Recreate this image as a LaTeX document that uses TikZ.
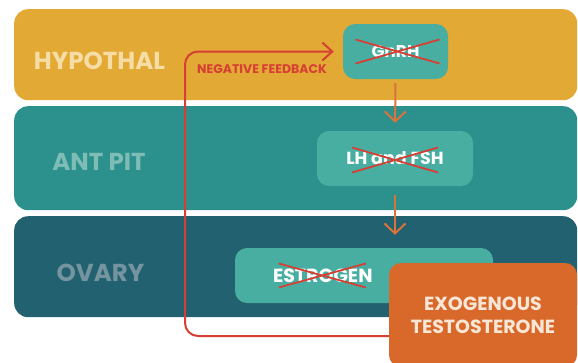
\documentclass[tikz,border=0pt]{standalone}
\usepackage{fontspec}
\setmainfont{Poppins}
\usepackage{tikz}
\usetikzlibrary{arrows.meta,positioning,calc}
\definecolor{hypoC}{HTML}{E3A935}
\definecolor{hypoT}{HTML}{F6DDA6}
\definecolor{pitC}{HTML}{2C918D}
\definecolor{pitT}{HTML}{7DBDB6}
\definecolor{ovaC}{HTML}{22616F}
\definecolor{ovaT}{HTML}{7494A0}
\definecolor{boxC}{HTML}{48AEA2}
\definecolor{fbred}{HTML}{D63F33}
\definecolor{arrC}{HTML}{D9733A}
\definecolor{exoC}{HTML}{D9692B}
\definecolor{exoT}{HTML}{F8E6D6}
\tikzset{
  band/.style={
    draw=none,
    rounded corners=14pt,
    minimum width=563pt,
    anchor=north west,
    inner sep=0pt
  },
  band label/.style={
    font=\bfseries\fontsize{24.5}{26}\selectfont
  },
  hormone/.style={
    fill=boxC,
    rounded corners=12pt,
    minimum height=55pt,
    inner sep=0pt,
    text=white,
    font=\bfseries\fontsize{17.5}{19}\selectfont
  },
  cross/.style={
    draw=fbred,
    line width=1.8pt
  },
  flow/.style={
    draw=arrC,
    line width=2pt,
    -{Straight Barb[length=10pt,width=21pt]}
  },
  feedback/.style={
    draw=fbred,
    line width=2pt,
    rounded corners=13pt,
    -{Straight Barb[length=10pt,width=18pt]}
  }
}

\begin{document}
\begin{tikzpicture}[x=1pt, y=-1pt]
   \useasboundingbox (0,0) rectangle (578,362);
   \clip (0,0) rectangle (578,362);

   % the three levels
   \node[band, fill=hypoC, minimum height=91pt] (hypo) at (14,9) {};
   \node[band, fill=pitC, minimum height=104pt] (antpit) at (14,106) {};
   \node[band, fill=ovaC, minimum height=101pt] (ovary) at (14,216) {};

   \node[band label, text=hypoT] (hypolab) at (99.5,60.5) {HYPOTHAL};
   \node[band label, text=pitT] (pitlab) at (99,162) {ANT PIT};
   \node[band label, text=ovaT] (ovalab) at (100.5,273) {OVARY};

   % hormones
   \node[hormone, minimum width=105pt, font=\bfseries\fontsize{17}{19}\selectfont] (gnrh) at (395.5,51.5) {GnRH};
   \node[hormone, minimum width=156pt] (lhfsh) at (395,158.5) {LH and FSH};
   \node[hormone, minimum width=258pt, text width=182pt, inner xsep=38pt,
         align=left, font=\bfseries\fontsize{19}{20}\selectfont] (estro) at (364,275.5) {ESTROGEN};

   \draw[cross] ($(gnrh.center)+(-40,-12)$) -- ($(gnrh.center)+(44,12)$);
   \draw[cross] ($(gnrh.center)+(-40,12)$) -- ($(gnrh.center)+(44,-12)$);
   \draw[cross] ($(lhfsh.center)+(-43,14)$) -- ($(lhfsh.center)+(43,-11)$);
   \draw[cross] ($(lhfsh.center)+(-43,-11)$) -- ($(lhfsh.center)+(43,14)$);
   \draw[cross] ($(estro.west)+(44,-12)$) -- ($(estro.west)+(131,12)$);
   \draw[cross] ($(estro.west)+(44,12)$) -- ($(estro.west)+(131,-12)$);

   \draw[flow, shorten <=4pt, shorten >=8pt] (gnrh.south) -- (lhfsh.north);
   \draw[flow, shorten <=9pt, shorten >=13pt] (lhfsh.south) -- (lhfsh.south |- estro.north);

   % negative feedback loop
   \coordinate (fbcorner) at (185,336);
   \draw[feedback, shorten >=9pt] (389,336) -- (fbcorner) |- (gnrh.west);
   \node[text=fbred, font=\bfseries\fontsize{12.5}{14}\selectfont] (fblab) at (262,69.5) {NEGATIVE FEEDBACK};

   \node[fill=exoC, rounded corners=12pt, minimum width=188pt, minimum height=104pt,
         text=exoT, align=center, font=\bfseries\fontsize{19}{23}\selectfont] (exo) at (483,315)
         {EXOGENOUS\\TESTOSTERONE};
\end{tikzpicture}
\end{document}
